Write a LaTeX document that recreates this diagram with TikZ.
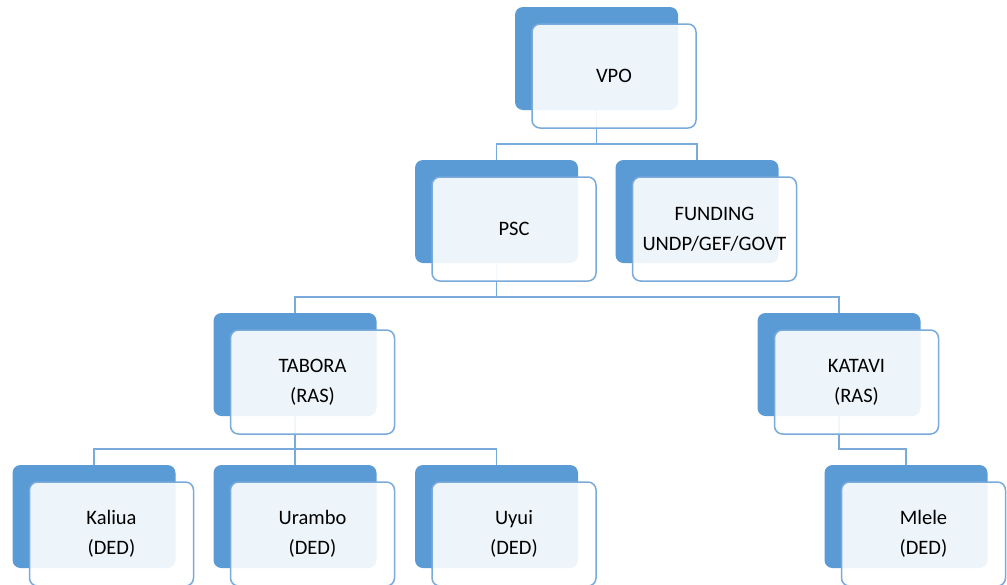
\documentclass[tikz,border=0pt]{standalone}
\usepackage{fontspec}
\setmainfont{Carlito}
\usetikzlibrary{positioning}
\definecolor{unitblue}{RGB}{91,155,213}
\definecolor{unitedge}{RGB}{122,170,218}
\pgfdeclarelayer{background}
\pgfsetlayers{background,main}
\tikzset{
  backbox/.style={fill=unitblue, rounded corners=8pt, minimum width=163pt, minimum height=103pt, inner sep=0pt},
  frontbox/.style={draw=unitedge, line width=1.5pt, fill=white, fill opacity=0.9, text opacity=1, rounded corners=8pt, minimum width=164pt, minimum height=104pt, inner sep=0pt, align=center, font=\fontsize{20.5}{30}\selectfont},
  link/.style={draw=unitedge, line width=1.6pt},
  unit/.pic={
    \node[backbox] (-back) at (0,0) {};
    \node[frontbox] (-front) at (17.5,17.5) {#1};
  }
}

\begin{document}
\begin{tikzpicture}[x=1pt, y=-1pt]
\useasboundingbox (0,0) rectangle (1007,584);
\pic (vpo) at (596.5,58.5) {unit={VPO}};
\pic (psc) at (496.5,211.5) {unit={PSC}};
\pic (fund) at (697,211.5) {unit={FUNDING\\UNDP/GEF/GOVT}};
\pic (tabora) at (295,364.5) {unit={TABORA\\(RAS)}};
\pic (katavi) at (839,364.5) {unit={KATAVI\\(RAS)}};
\pic (kaliua) at (94,516.5) {unit={Kaliua\\(DED)}};
\pic (urambo) at (295,516.5) {unit={Urambo\\(DED)}};
\pic (uyui) at (496.5,516.5) {unit={Uyui\\(DED)}};
\pic (mlele) at (906,516.5) {unit={Mlele\\(DED)}};
% connectors behind the boxes
\begin{pgfonlayer}{background}
\draw[link] (vpo-back.south) -- ++(0,34) -| (psc-back.north);
\draw[link] (vpo-back.south) -- ++(0,34) -| (fund-back.north);
\draw[link] (psc-back.south) -- ++(0,34) -| (tabora-back.north);
\draw[link] (psc-back.south) -- ++(0,34) -| (katavi-back.north);
\draw[link] (tabora-back.south) -- ++(0,33) -| (kaliua-back.north);
\draw[link] (tabora-back.south) -- (urambo-back.north);
\draw[link] (tabora-back.south) -- ++(0,33) -| (uyui-back.north);
\draw[link] (katavi-back.south) -- ++(0,33) -| (mlele-back.north);
\end{pgfonlayer}
\end{tikzpicture}
\end{document}
